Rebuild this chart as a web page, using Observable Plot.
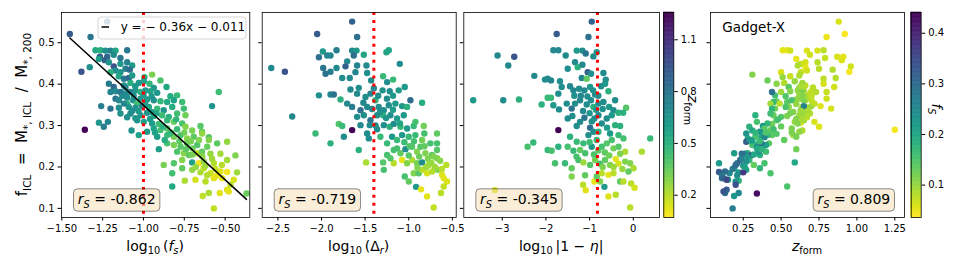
<!DOCTYPE html>
<html><head><meta charset="utf-8">
<script src="https://cdn.jsdelivr.net/npm/d3@7"></script>
<script src="https://cdn.jsdelivr.net/npm/@observablehq/plot@0.6"></script>
<style>
body{margin:0;background:#fff;}
#chart{position:relative;width:964px;height:270px;font-family:"DejaVu Sans";}
#chart svg{position:absolute;top:0;overflow:visible;}
</style></head><body><div id="chart"></div>
<script>
// ---------------- data ----------------
// panel 1: [log10(f_s), f_ICL, z_form]
const P1 = [
[-1.451,0.521,0.92],[-1.222,0.551,0.88],[-1.324,0.514,0.80],[-1.380,0.430,0.95],[-1.329,0.441,0.66],[-1.359,0.290,1.25],
[-1.294,0.482,0.54],[-1.263,0.482,0.51],[-1.233,0.481,0.67],[-1.202,0.481,0.74],[-1.171,0.481,0.56],[-1.100,0.482,0.78],
[-1.267,0.466,0.91],[-1.222,0.466,0.87],[-1.182,0.471,0.69],[-1.141,0.463,0.79],[-1.273,0.461,0.60],[-1.237,0.458,0.90],
[-1.182,0.443,0.96],[-1.141,0.449,0.63],[-1.100,0.453,0.74],[-1.069,0.445,0.61],[-1.212,0.453,0.66],[-1.171,0.433,0.67],
[-1.141,0.429,0.63],[-1.110,0.437,0.75],[-1.084,0.435,0.84],[-1.202,0.429,0.50],[-0.994,0.417,0.51],[-1.151,0.419,0.56],
[-1.120,0.413,0.78],[-1.090,0.415,0.86],[-1.069,0.421,0.62],[-0.947,0.423,0.31],[-0.896,0.409,0.41],[-1.212,0.401,0.78],
[-1.182,0.393,0.85],[-1.120,0.397,0.66],[-1.080,0.403,0.52],[-1.029,0.403,0.64],[-0.998,0.407,0.59],[-0.963,0.401,0.47],
[-0.937,0.391,0.62],[-0.859,0.393,0.55],[-1.202,0.381,0.72],[-1.171,0.383,0.70],[-1.141,0.381,0.80],[-1.110,0.377,0.69],
[-1.080,0.381,0.73],[-1.049,0.385,0.65],[-1.018,0.381,0.50],[-0.988,0.385,0.61],[-0.957,0.383,0.56],[-0.916,0.379,0.64],
[-0.835,0.371,0.53],[-0.794,0.373,0.46],[-0.539,0.381,0.44],[-1.171,0.365,0.80],[-1.151,0.361,0.70],[-1.100,0.367,0.68],
[-1.063,0.361,0.66],[-1.018,0.365,0.63],[-0.978,0.363,0.60],[-0.937,0.361,0.65],[-0.896,0.359,0.47],[-0.855,0.357,0.54],
[-0.814,0.361,0.57],[-0.763,0.357,0.45],[-1.100,0.353,0.49],[-1.039,0.353,0.43],[-1.259,0.347,0.76],[-1.202,0.341,0.83],
[-1.151,0.343,0.68],[-1.090,0.345,0.64],[-1.049,0.343,0.67],[-1.008,0.347,0.70],[-0.967,0.345,0.55],[-0.916,0.341,0.46],
[-0.876,0.337,0.63],[-0.824,0.345,0.53],[-0.753,0.341,0.44],[-0.580,0.347,0.65],[-1.141,0.329,0.66],[-1.080,0.329,0.69],
[-1.018,0.325,0.62],[-0.978,0.331,0.64],[-0.937,0.323,0.54],[-0.886,0.325,0.45],[-0.845,0.321,0.50],[-0.794,0.329,0.43],
[-0.743,0.325,0.33],[-1.273,0.307,0.63],[-1.218,0.309,0.72],[-1.039,0.313,0.65],[-0.998,0.309,0.59],[-0.947,0.305,0.61],
[-0.906,0.304,0.44],[-0.855,0.313,0.47],[-0.814,0.309,0.34],[-0.763,0.305,0.41],[-0.651,0.299,0.38],[-1.243,0.297,0.75],
[-1.073,0.288,0.64],[-1.029,0.277,0.58],[-0.978,0.285,0.62],[-0.937,0.293,0.57],[-0.896,0.289,0.43],[-0.855,0.293,0.39],
[-0.794,0.291,0.45],[-0.743,0.297,0.29],[-0.702,0.288,0.31],[-0.641,0.285,0.36],[-0.916,0.273,0.60],[-0.855,0.277,0.44],
[-0.814,0.273,0.33],[-0.773,0.277,0.41],[-0.733,0.269,0.28],[-0.692,0.273,0.37],[-0.641,0.281,0.27],[-0.600,0.272,0.39],
[-0.906,0.243,0.60],[-0.855,0.257,0.42],[-0.814,0.253,0.31],[-0.773,0.249,0.38],[-0.733,0.257,0.35],[-0.671,0.253,0.40],
[-0.610,0.249,0.34],[-0.549,0.257,0.37],[-0.488,0.261,0.27],[-0.600,0.265,0.29],[-0.794,0.237,0.40],[-0.753,0.233,0.28],
[-0.722,0.229,0.36],[-0.671,0.233,0.19],[-0.641,0.237,0.35],[-0.590,0.232,0.26],[-0.529,0.232,0.24],[-0.437,0.228,0.30],
[-0.876,0.205,0.32],[-0.814,0.209,0.39],[-0.763,0.217,0.29],[-0.702,0.211,0.59],[-0.661,0.209,0.09],[-0.631,0.213,0.27],
[-0.569,0.209,0.21],[-0.488,0.217,0.23],[-0.824,0.185,0.43],[-0.763,0.197,0.36],[-0.702,0.193,0.27],[-0.651,0.187,0.22],
[-0.631,0.197,0.19],[-0.590,0.185,0.16],[-0.529,0.189,0.13],[-0.488,0.188,0.09],[-0.427,0.187,0.25],[-0.553,0.179,0.11],
[-0.747,0.167,0.22],[-0.682,0.169,0.15],[-0.620,0.165,0.20],[-0.569,0.173,0.12],[-0.518,0.173,0.11],[-0.447,0.169,0.14],
[-0.824,0.153,0.54],[-0.467,0.157,0.20],[-0.488,0.145,0.14],[-0.600,0.137,0.22],[-0.533,0.137,0.13],[-0.478,0.141,0.12],
[-0.369,0.136,0.34],[-0.637,0.130,0.19],[-0.569,0.100,0.18],
[-1.130,0.372,0.70],[-1.060,0.372,0.66],[-1.000,0.374,0.62],[-0.950,0.370,0.64],[-1.120,0.353,0.72],[-1.070,0.335,0.68],
[-1.030,0.335,0.63],[-0.990,0.352,0.60],[-0.950,0.333,0.58],[-1.100,0.320,0.67],[-1.050,0.318,0.64],[-0.960,0.316,0.60],
[-0.920,0.330,0.56],[-1.110,0.392,0.71],[-1.050,0.395,0.63],[-0.830,0.283,0.40],[-0.780,0.262,0.36],[-0.750,0.283,0.33],
[-0.710,0.262,0.31],[-0.700,0.245,0.34],[-0.660,0.265,0.30],[-0.640,0.225,0.28],[-0.620,0.203,0.25],[-0.700,0.230,0.32],
[-0.740,0.243,0.37],[-0.680,0.200,0.26],[-0.610,0.180,0.21],[-0.560,0.195,0.18],[-0.580,0.220,0.24],[-0.520,0.205,0.20],
[-0.880,0.298,0.50],[-0.840,0.280,0.47],[-0.870,0.265,0.52],[-0.930,0.283,0.57],[-0.800,0.315,0.48]
];
// panel 2: [log10(Delta_r), f_ICL, z_form]
const P2 = [
[-1.649,0.551,0.88],[-2.050,0.521,0.92],[-1.592,0.514,0.82],[-2.576,0.439,0.70],[-2.420,0.430,0.95],[-2.336,0.322,0.70],[-1.649,0.289,1.25],
[-1.985,0.479,0.62],[-1.897,0.469,0.70],[-1.828,0.482,0.75],[-2.030,0.465,0.82],[-1.935,0.469,0.72],[-1.649,0.481,0.70],[-1.599,0.481,0.62],
[-1.630,0.469,0.82],[-1.515,0.471,0.56],[-1.706,0.455,0.70],[-1.725,0.443,0.90],[-1.592,0.445,0.72],[-1.981,0.439,0.80],[-1.897,0.430,0.76],
[-1.954,0.425,0.82],[-1.828,0.439,0.70],[-1.763,0.415,0.68],[-1.676,0.415,0.70],[-1.611,0.429,0.72],[-1.477,0.427,0.68],[-1.431,0.409,0.68],
[-1.485,0.445,0.70],[-1.256,0.477,0.56],[-1.229,0.482,0.56],[-1.294,0.419,0.46],[-1.248,0.405,0.68],[-1.179,0.411,0.46],[-1.103,0.449,0.68],
[-1.218,0.383,0.68],[-1.115,0.385,0.62],[-1.046,0.393,0.62],[-0.981,0.361,0.84],[-0.847,0.355,0.53],[-2.030,0.373,0.68],[-1.897,0.375,0.70],
[-1.859,0.375,0.80],[-1.782,0.363,0.50],[-1.668,0.387,0.70],[-1.573,0.391,0.68],[-1.706,0.353,0.70],[-1.649,0.345,0.76],[-1.553,0.337,0.82],
[-1.592,0.377,0.70],[-1.496,0.369,0.68],[-1.439,0.377,0.72],[-1.382,0.361,0.50],[-1.344,0.345,0.68],[-1.286,0.337,0.68],[-1.229,0.349,0.68],
[-1.153,0.353,0.62],[-1.076,0.347,0.62],[-1.019,0.345,0.50],[-1.477,0.345,0.70],[-1.592,0.321,0.68],[-1.515,0.325,0.68],[-1.439,0.313,0.80],
[-1.363,0.325,0.68],[-1.294,0.325,0.50],[-1.210,0.325,0.68],[-1.134,0.317,0.62],[-1.057,0.325,0.62],[-1.802,0.304,0.40],[-1.763,0.299,0.46],
[-2.069,0.281,0.46],[-1.897,0.257,0.50],[-1.553,0.301,0.70],[-1.447,0.301,0.68],[-1.363,0.291,0.68],[-1.286,0.301,0.68],[-1.218,0.297,0.50],
[-1.172,0.304,0.68],[-1.095,0.297,0.46],[-1.019,0.293,0.62],[-0.943,0.299,0.46],[-0.828,0.299,0.33],[-0.924,0.309,0.42],[-1.744,0.273,0.68],
[-1.573,0.241,0.50],[-1.477,0.281,0.68],[-1.458,0.269,0.68],[-1.325,0.273,0.46],[-1.248,0.257,0.46],[-1.191,0.273,0.62],[-1.134,0.265,0.46],
[-1.076,0.277,0.62],[-1.000,0.273,0.46],[-0.924,0.277,0.46],[-0.847,0.265,0.33],[-0.752,0.257,0.42],[-0.676,0.257,0.42],[-1.489,0.211,0.22],
[-1.248,0.229,0.42],[-1.172,0.241,0.42],[-1.095,0.233,0.36],[-1.038,0.243,0.68],[-0.962,0.249,0.39],[-0.905,0.237,0.30],[-0.866,0.249,0.39],
[-0.809,0.233,0.30],[-0.733,0.229,0.36],[-1.294,0.211,0.39],[-1.172,0.209,0.20],[-1.076,0.217,0.12],[-1.019,0.209,0.30],[-0.962,0.217,0.22],
[-0.905,0.209,0.32],[-0.847,0.211,0.68],[-0.771,0.205,0.22],[-0.714,0.225,0.30],[-0.676,0.241,0.39],[-1.046,0.177,0.42],[-0.943,0.185,0.30],
[-0.886,0.185,0.39],[-0.847,0.193,0.20],[-0.790,0.185,0.15],[-0.733,0.189,0.20],[-0.668,0.193,0.30],[-0.569,0.205,0.20],[-0.618,0.181,0.14],
[-0.599,0.173,0.12],[-0.561,0.165,0.14],[-1.000,0.165,0.36],[-0.916,0.152,0.62],[-0.859,0.146,0.12],[-0.790,0.129,0.13],[-0.630,0.137,0.20],
[-0.599,0.153,0.18],[-0.714,0.102,0.18],[-0.676,0.221,0.30],[-1.134,0.245,0.42],[-1.286,0.193,0.42],[-1.210,0.221,0.39],[-0.676,0.281,0.36],
[-0.821,0.281,0.42],
[-1.400,0.390,0.70],[-1.350,0.372,0.68],[-1.300,0.385,0.66],[-1.250,0.365,0.68],[-1.180,0.372,0.62],[-1.520,0.355,0.70],[-1.420,0.340,0.72],
[-1.330,0.332,0.66],[-1.260,0.318,0.64],[-1.180,0.338,0.60],[-1.380,0.300,0.66],[-1.100,0.305,0.55],[-1.050,0.260,0.45],[-0.990,0.250,0.40],
[-0.940,0.262,0.42],[-0.880,0.225,0.34],[-0.820,0.250,0.36],[-0.780,0.220,0.30],[-0.740,0.210,0.26],[-0.700,0.200,0.24],[-0.640,0.215,0.28],
[-0.620,0.195,0.20],[-0.800,0.200,0.25],[-1.000,0.228,0.38],[-0.900,0.198,0.30]
];
// panel 3: [log10|1-eta|, f_ICL, z_form]
const P3 = [
[-0.951,0.551,0.88],[-1.754,0.521,0.92],[-1.027,0.514,0.82],[-3.107,0.469,0.70],[-2.725,0.466,0.95],[-2.862,0.445,0.70],[-3.665,0.361,0.62],
[-2.977,0.361,0.68],[-2.618,0.363,0.50],[-1.716,0.289,1.25],[-1.830,0.482,0.70],[-1.716,0.482,0.70],[-1.547,0.469,0.68],[-1.295,0.481,0.62],
[-1.165,0.481,0.68],[-1.089,0.474,0.80],[-0.913,0.467,0.68],[-0.837,0.477,0.62],[-1.501,0.437,0.68],[-1.333,0.453,0.70],[-1.272,0.441,0.50],
[-1.165,0.447,0.70],[-1.043,0.429,0.90],[-0.967,0.425,0.68],[-1.180,0.415,0.72],[-1.066,0.413,0.36],[-0.684,0.427,0.68],[-0.630,0.411,0.68],
[-2.266,0.420,0.70],[-2.021,0.411,0.68],[-1.884,0.409,0.72],[-1.678,0.407,0.68],[-2.098,0.351,0.50],[-1.960,0.367,0.46],[-1.884,0.367,0.46],
[-1.830,0.349,0.62],[-1.700,0.339,0.68],[-1.639,0.393,0.68],[-1.448,0.395,0.70],[-1.371,0.385,0.70],[-1.241,0.389,0.68],[-1.119,0.385,0.70],
[-0.989,0.393,0.62],[-0.875,0.375,0.68],[-0.737,0.395,0.68],[-0.569,0.383,0.50],[-0.416,0.361,0.68],[-0.164,0.343,0.39],[-0.232,0.331,0.50],
[-1.410,0.341,0.82],[-1.524,0.353,0.68],[-1.333,0.353,0.68],[-1.218,0.361,0.70],[-1.066,0.351,0.68],[-0.967,0.361,0.68],[-0.913,0.345,0.50],
[-0.798,0.353,0.68],[-0.684,0.357,0.68],[-0.554,0.345,0.62],[-0.454,0.337,0.68],[-0.339,0.331,0.50],[-1.501,0.317,0.68],[-1.394,0.323,0.68],
[-1.295,0.299,0.68],[-1.218,0.309,0.68],[-1.119,0.319,0.80],[-0.989,0.295,0.84],[-0.890,0.317,0.68],[-0.798,0.325,0.68],[-0.722,0.305,0.68],
[-0.607,0.317,0.68],[-0.493,0.325,0.62],[-0.416,0.301,0.50],[-0.301,0.299,0.50],[0.387,0.269,0.46],[0.196,0.237,0.22],[-2.419,0.249,0.42],
[-2.289,0.259,0.46],[-1.960,0.241,0.46],[-1.869,0.239,0.42],[-1.716,0.249,0.50],[-1.501,0.249,0.42],[-1.371,0.239,0.46],[-1.218,0.241,0.36],
[-1.142,0.257,0.46],[-0.951,0.249,0.62],[-0.837,0.265,0.46],[-0.722,0.249,0.42],[-0.607,0.257,0.39],[-0.493,0.265,0.42],[-0.454,0.245,0.33],
[-0.339,0.249,0.39],[-0.225,0.269,0.42],[-0.187,0.237,0.22],[-1.792,0.209,0.42],[-1.563,0.209,0.46],[-1.410,0.197,0.36],[-1.257,0.217,0.42],
[-1.142,0.211,0.25],[-0.989,0.205,0.39],[-0.875,0.217,0.32],[-0.760,0.208,0.42],[-0.645,0.217,0.36],[-0.531,0.205,0.30],[-0.401,0.219,0.12],
[-0.339,0.208,0.15],[-0.187,0.213,0.30],[-0.072,0.209,0.30],[0.005,0.197,0.22],[-0.110,0.189,0.36],[-1.410,0.177,0.30],[-1.104,0.180,0.36],
[-0.890,0.165,0.12],[-0.837,0.177,0.36],[-0.722,0.185,0.20],[-0.569,0.181,0.12],[-0.454,0.185,0.20],[-0.301,0.165,0.36],[-1.150,0.157,0.20],
[-1.089,0.144,0.13],[-0.760,0.165,0.30],[-0.661,0.152,0.62],[-0.569,0.129,0.13],[-0.401,0.133,0.20],[-0.225,0.165,0.20],[-0.049,0.160,0.20],
[0.028,0.150,0.15],[-3.168,0.144,0.14],[-0.072,0.102,0.20],[-1.295,0.261,0.46],[-1.027,0.277,0.68],[-0.913,0.285,0.68],[-0.798,0.285,0.50],
[-1.448,0.273,0.50],[-0.531,0.281,0.62],[-0.339,0.277,0.46],[-1.960,0.413,0.70],[-1.716,0.377,0.68],[-0.645,0.401,0.62],
[-1.200,0.372,0.70],[-1.050,0.370,0.68],[-0.920,0.385,0.66],[-0.800,0.372,0.68],[-0.700,0.340,0.66],[-1.150,0.335,0.70],[-1.000,0.330,0.64],
[-0.850,0.338,0.62],[-0.600,0.295,0.60],[-1.350,0.372,0.66],[-0.950,0.310,0.66],[-1.100,0.233,0.42],[-0.900,0.230,0.40],[-0.800,0.240,0.38],
[-0.650,0.235,0.36],[-0.550,0.228,0.33],[-0.300,0.232,0.30],[-1.300,0.225,0.42],[-0.700,0.200,0.30],[-0.450,0.200,0.25],[-1.000,0.260,0.44],
[-0.250,0.195,0.26]
];
const fitSlope = -0.36, fitIntercept = -0.011;
const spearman = [-0.862, -0.719, -0.345, 0.809];
const thresholds = [-1.0, -1.4, -0.82];
const simName = "Gadget-X";
const yTicks = [0.1, 0.2, 0.3, 0.4, 0.5];
const x1Ticks = [-1.5, -1.25, -1.0, -0.75, -0.5];
const x2Ticks = [-2.5, -2.0, -1.5, -1.0, -0.5];
const x3Ticks = [-3, -2, -1, 0];
const x4Ticks = [0.25, 0.5, 0.75, 1.0, 1.25];
const zTicks = [0.2, 0.5, 0.8, 1.1];
const fsTicks = [0.1, 0.2, 0.3, 0.4];

// ---------------- layout ----------------
const H = 270, FT = 12, FB = 217;
const yDomain = [0.078, 0.573];
const zDomain = [0.071, 1.258];
const fsDomain = [0.036, 0.441];
const chart = document.getElementById("chart");
const FONT = "DejaVu Sans";
const baseStyle = {fontFamily: FONT, fontSize: "10px", background: "none", color: "#000", overflow: "visible"};

function richText(g, x, y, parts, {size = 14, anchor = "start", rotate = 0} = {}) {
  const t = g.append("text").attr("font-family", FONT).attr("font-size", size)
    .attr("text-anchor", anchor).attr("fill", "#000");
  if (rotate) t.attr("transform", `translate(${x},${y}) rotate(${rotate})`);
  else t.attr("x", x).attr("y", y);
  fillRich(t, parts, size);
  return t;
}
function fillRich(t, parts, size) {
  t.text(null);
  let off = 0;
  for (const p of parts) {
    const [str, flags = ""] = Array.isArray(p) ? p : [p];
    const sub = flags.includes("s");
    const target = sub ? size * 0.28 : 0;
    const ts = t.append("tspan").text(str).attr("dy", target - off);
    off = target;
    if (sub) ts.attr("font-size", size * 0.7);
    if (flags.includes("i")) ts.attr("font-style", "italic");
  }
}

function scatter(cfg) {
  const svg = Plot.plot({
    width: cfg.width, height: H,
    marginLeft: cfg.frameL - cfg.left, marginRight: cfg.left + cfg.width - cfg.frameR,
    marginTop: FT, marginBottom: H - FB,
    style: baseStyle,
    x: {domain: cfg.xDomain, ticks: cfg.xTicks, tickFormat: cfg.xFormat, tickSize: 3.5, tickPadding: 3.5, label: null},
    y: {domain: yDomain, ticks: yTicks, tickFormat: cfg.yLabels ? d3.format(".1f") : () => "", tickSize: 3.5, tickPadding: 3.5, label: null},
    color: cfg.color,
    marks: cfg.marks
  });
  svg.style.left = cfg.left + "px";
  chart.appendChild(svg);
  const s = d3.select(svg);
  // r_S boxes
  s.selectAll("text").filter(function () { return this.textContent.startsWith("r_S = "); }).each(function () {
    const val = this.textContent.slice(6);
    fillRich(d3.select(this), [["r", "i"], ["S", "is"], [" = " + val]], 14);
    const bb = this.getBBox();
    const r = document.createElementNS("http://www.w3.org/2000/svg", "rect");
    r.setAttribute("x", bb.x - 4.3);
    r.setAttribute("y", bb.y - 2);
    r.setAttribute("width", bb.width + 8.6);
    r.setAttribute("height", 22.4);
    r.setAttribute("rx", 4);
    r.setAttribute("fill", "#f5deb3");
    r.setAttribute("fill-opacity", 0.5);
    r.setAttribute("stroke", "#000");
    r.setAttribute("stroke-opacity", 0.45);
    r.setAttribute("stroke-width", 1);
    const tr = this.getAttribute("transform");
    if (tr) r.setAttribute("transform", tr);
    this.parentNode.insertBefore(r, this);
  });
  // x label
  richText(s, (cfg.frameL + cfg.frameR) / 2 - cfg.left, 250.5, cfg.xLabel, {size: 14, anchor: "middle"});
  return s;
}

function colorbar(cfg) {
  const [lo, hi] = cfg.domain;
  const n = 160;
  const cells = d3.range(n).map(i => [lo + (hi - lo) * i / n, lo + (hi - lo) * (i + 1) / n]);
  const svg = Plot.plot({
    width: cfg.width, height: H,
    marginLeft: cfg.frameL - cfg.left, marginRight: cfg.left + cfg.width - cfg.frameR,
    marginTop: FT, marginBottom: H - FB,
    style: baseStyle,
    x: {axis: null, domain: [0, 1]},
    y: {domain: [lo, hi], axis: "right", ticks: cfg.ticks, tickFormat: d3.format(".1f"), tickSize: 3.5, tickPadding: 3.5, label: null},
    color: {type: "linear", scheme: "viridis", reverse: true, domain: [lo, hi]},
    marks: [
      Plot.rect(cells, {x1: () => 0, x2: () => 1, y1: d => d[0], y2: d => d[1],
        fill: d => (d[0] + d[1]) / 2, stroke: d => (d[0] + d[1]) / 2, strokeWidth: 0.6}),
      Plot.frame({stroke: "#000", strokeWidth: 0.8})
    ]
  });
  svg.style.left = cfg.left + "px";
  chart.appendChild(svg);
  const s = d3.select(svg);
  richText(s, cfg.labelX - cfg.left, cfg.labelY, cfg.label, {size: 14, anchor: "middle", rotate: 90});
  return s;
}

const zColor = {type: "linear", scheme: "viridis", reverse: true, domain: zDomain};
const dotOpts = {y: d => d[1], fill: d => d[2], r: 3.2};
const redRule = v => Plot.ruleX([v], {stroke: "#ff0000", strokeWidth: 3, strokeDasharray: "3,4.95"});
const rsText = (v, right) => Plot.text([v], {
  text: d => `r_S = ${d.toFixed(3)}`,
  frameAnchor: right ? "bottom-right" : "bottom-left", lineAnchor: "bottom",
  dx: right ? -14.3 : 16.3, dy: -13.7, fontSize: 14, fill: "#000"
});
const frame = Plot.frame({stroke: "#000", strokeWidth: 0.8});

// ---- panel 1 ----
const s1 = scatter({
  left: 0, width: 256, frameL: 61, frameR: 249.3,
  xDomain: [-1.502, -0.349], xTicks: x1Ticks, xFormat: d3.format(".2f"), yLabels: true,
  color: zColor,
  xLabel: [["log"], ["10", "s"], ["\u2009("], ["f", "i"], ["s", "is"], [")"]],
  marks: [
    Plot.dot(P1, {x: d => d[0], ...dotOpts}),
    redRule(thresholds[0]),
    Plot.line(d3.extent(P1, d => d[0]), {x: d => d, y: d => fitSlope * d + fitIntercept, stroke: "#000", strokeWidth: 1.5}),
    rsText(spearman[0], false),
    frame
  ]
});
// legend + y label
{
  const g = s1.append("g");
  const lx = 249.3 - 3.3 - 148, ly = FT + 5;
  g.append("rect").attr("x", lx).attr("y", ly).attr("width", 148).attr("height", 22).attr("rx", 3)
    .attr("fill", "#fff").attr("fill-opacity", 0.8).attr("stroke", "#cccccc").attr("stroke-opacity", 0.8);
  g.append("line").attr("x1", lx + 3.5).attr("x2", lx + 11).attr("y1", ly + 10).attr("y2", ly + 10)
    .attr("stroke", "#000").attr("stroke-width", 1.5);
  const sgn = v => v < 0 ? "\u2212 " : "+ ";
  g.append("text").attr("x", lx + 22.7).attr("y", ly + 14).attr("text-anchor", "start")
    .attr("font-family", FONT).attr("font-size", 12).attr("fill", "#000")
    .text(`y = ${sgn(fitSlope)}${Math.abs(fitSlope).toFixed(2)}x ${sgn(fitIntercept)}${Math.abs(fitIntercept).toFixed(3)}`);
  richText(s1, 27, (FT + FB) / 2, [["f"], ["ICL", "s"], ["  =  M"], ["*, ICL", "s"], ["  /  M"], ["*, 200", "s"]], {size: 15, anchor: "middle", rotate: -90});
}

// ---- panel 2 ----
scatter({
  left: 256, width: 203, frameL: 261.7, frameR: 455.7,
  xDomain: [-2.68, -0.456], xTicks: x2Ticks, xFormat: d3.format(".1f"), yLabels: false,
  color: zColor,
  xLabel: [["log"], ["10", "s"], ["\u2009(\u0394"], ["r", "is"], [")"]],
  marks: [Plot.dot(P2, {x: d => d[0], ...dotOpts}), redRule(thresholds[1]), rsText(spearman[1], false), frame]
});

// ---- panel 3 ----
scatter({
  left: 459, width: 202, frameL: 463.3, frameR: 659,
  xDomain: [-3.88, 0.60], xTicks: x3Ticks, xFormat: d3.format("d"), yLabels: false,
  color: zColor,
  xLabel: [["log"], ["10", "s"], ["\u2009|1 \u2212 "], ["\u03b7", "i"], ["|"]],
  marks: [Plot.dot(P3, {x: d => d[0], ...dotOpts}), redRule(thresholds[2]), rsText(spearman[2], false), frame]
});

// ---- colorbar z_form ----
colorbar({left: 661, width: 45, frameL: 663.3, frameR: 673.3, domain: zDomain, ticks: zTicks,
  label: [["z", "i"], ["form", "s"]], labelX: 688, labelY: 110});

// ---- panel 4 ----
scatter({
  left: 706, width: 204, frameL: 710, frameR: 904,
  xDomain: [0.034, 1.314], xTicks: x4Ticks, xFormat: d3.format(".2f"), yLabels: false,
  color: {type: "linear", scheme: "viridis", reverse: true, domain: fsDomain},
  xLabel: [["z", "i"], ["form", "s"]],
  marks: [
    Plot.dot(P1, {x: d => d[2], y: d => d[1], fill: d => Math.pow(10, d[0]), r: 3.2}),
    Plot.text([simName], {frameAnchor: "top-left", lineAnchor: "bottom", dx: 11.7, dy: 19.7, fontSize: 13.5, fill: "#000"}),
    rsText(spearman[3], true),
    frame
  ]
});

// ---- colorbar f_s ----
colorbar({left: 910, width: 54, frameL: 910.7, frameR: 920.7, domain: fsDomain, ticks: fsTicks,
  label: [["f", "i"], ["S", "is"]], labelX: 932, labelY: 109});
</script></body></html>
